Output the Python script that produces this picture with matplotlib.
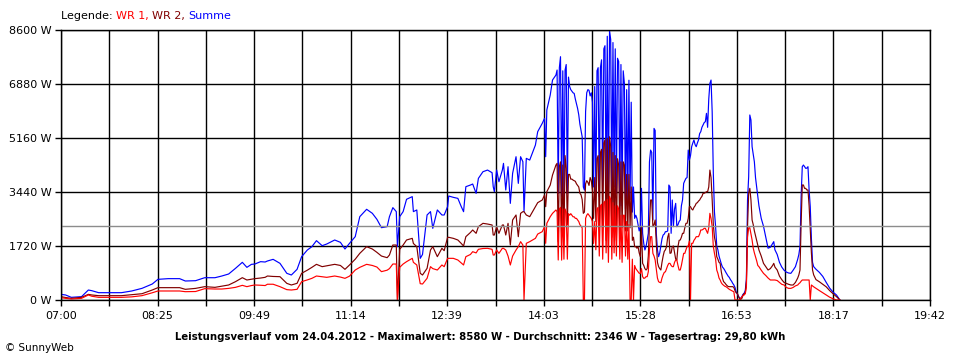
import numpy as np
import matplotlib.pyplot as plt

# Messzeitpunkte in Minuten seit 07:00 und Leistung in W
t_min = [0, 4, 9, 18, 24, 27, 33, 41, 53, 62, 71, 80, 85, 94, 104, 109, 118, 126, 135, 141,
         147, 153, 159, 163, 167, 170, 175, 179,
         181, 186, 192, 198, 202, 207, 211, 216, 220, 224, 229, 233, 240, 245, 249, 253, 258,
         262, 268, 273, 277, 281, 286, 288, 291, 294, 295, 297, 300, 303, 308, 309, 312, 315,
         317, 321, 324, 326, 330, 334,
         336, 339, 340, 344, 348, 351, 353, 355, 359, 361, 364, 366, 370, 374, 378, 379, 380,
         382, 384, 387, 388, 390, 392, 394, 396, 399, 401, 403, 405, 406, 408, 411, 416, 418,
         422, 424, 425, 426, 429, 431, 434, 435, 436,
         437, 438, 439, 440, 441, 442, 443, 444, 445, 446, 447, 448, 449, 450, 451, 452, 453,
         454, 455, 456, 457, 458, 459, 460, 461, 462, 463, 464, 465, 466, 467, 468, 469, 470,
         471, 472, 473, 474, 475, 476, 477, 478, 479, 480, 481, 482, 483, 484, 485, 486, 487,
         488, 489, 490, 491, 492, 493, 494, 495, 496, 497, 498, 499, 500, 501, 502, 503, 504,
         505, 506, 507,
         508, 509, 510, 511, 512, 513, 514, 515, 516, 517, 518, 519, 520, 521, 522, 523, 524,
         525, 526, 527, 528, 529, 530, 531, 532, 533, 534, 535, 536, 537, 538, 539, 540, 541,
         542, 543, 544, 545, 546, 547, 548, 549, 550, 551, 552, 553, 554, 555, 556, 557, 558,
         559, 560, 561, 562, 563, 564, 565, 566, 567, 568, 569, 570, 571, 572, 573, 574, 575,
         576, 577, 578, 579, 580, 581, 582, 583, 584, 585, 586, 587, 588, 589, 590, 591, 592,
         593, 594, 595, 596, 597, 598, 599, 600,
         601, 602, 603, 604, 605, 606, 607, 608, 609, 610, 611, 612, 614, 616, 618, 620, 622,
         624, 625, 626, 628, 630, 632, 634, 636, 638, 640, 642, 644, 646, 647, 648, 649, 650,
         651, 652, 653, 654, 655, 656, 657, 658, 659, 660, 662, 665, 668, 671, 674, 677, 680,
         683]

summe = [180, 160, 85, 106, 318, 297, 233, 233, 233, 287, 371, 509, 658, 680, 680, 605, 615, 710, 710, 764,
         828, 1008, 1200, 1040, 1136, 1146, 1221, 1210,
         1242, 1295, 1168, 850, 796, 977, 1380, 1592, 1699, 1890, 1730, 1783, 1911, 1837, 1624, 1805, 2018,
         2655, 2889, 2761, 2570, 2304, 2336, 2655, 2942, 2815, 1699, 2655, 2815, 3208, 3292, 2815, 2868, 1327,
         1450, 2708, 2815, 2283, 2868, 2708,
         2707, 2972, 3312, 3270, 3237, 2972, 2813, 3609, 3662, 3694, 3397, 3874, 4086, 4139, 4055, 3609, 3450,
         4139, 3768, 4139, 4352, 3503, 4246, 3078, 4033, 4564, 3715, 4564, 4405, 2813, 4511, 4458, 4936, 5361,
         5627, 5786, 4564, 6051, 6529, 7007, 7166, 7325, 3397,
         7400, 7750, 3300, 7300, 3200, 7325, 7500, 3400, 7100, 6800, 6700, 6650, 6600, 6580, 6400, 6250, 6100,
         5900, 5600, 5400, 5200, 3600, 3500, 6000, 6600, 6700, 6680, 6500, 6600, 6300, 3600, 6800, 3400, 7300,
         7400, 3300, 7400, 7650, 3400, 8000, 8100, 3300, 8400, 3000, 8580, 8300, 3200, 8200, 3600, 8000, 3400,
         7700, 7600, 3000, 7500, 3000, 7300, 6900, 2900, 6700, 3000, 7000, 3200, 6300, 2800, 3600, 2600, 2700,
         2600, 2400, 2200,
         2335, 3556, 2124, 1800, 1593, 1700, 1900, 2124, 4400, 4776, 4700, 2548, 5466, 5400, 2124, 1600, 1380,
         1500, 1720, 1950, 2070, 2100, 2177, 2177, 2200, 3662, 3600, 2124, 3185, 2336, 2900, 3078, 2336, 2400,
         2500, 2548, 3000, 3185, 3715, 3800, 3874, 3900, 4776, 4458, 4600, 4883, 5000, 5096, 4950, 4883, 5000,
         5096, 5300, 5361, 5500, 5573, 5650, 5680, 5945, 5500, 6400, 6900, 7006, 5998, 4033, 2800, 2336, 1720,
         1600, 1400, 1274, 1150, 1050, 1008, 950, 880, 820, 760, 720, 650, 600, 531, 480, 400, 260,
         200, 120, 60, 53, 100, 180, 212, 300,
         650, 3185, 3928, 5893, 5733, 4883, 4650, 4400, 3900, 3600, 3300, 3000, 2600, 2350, 2000, 1650, 1680,
         1800, 1858, 1600, 1450, 1200, 1050, 950, 890, 860, 849, 950, 1062, 1300, 1450, 1700, 3291, 4246,
         4299, 4250, 4193, 4200, 4246, 3500, 2973, 1965, 1200, 1062, 980, 880, 750, 560, 380, 250, 159,
         0]

wr2 = [106, 80, 53, 85, 180, 160, 138, 138, 138, 170, 200, 318, 393, 393, 393, 340, 370, 425, 403, 440,
       478, 584, 711, 637, 660, 680, 700, 722,
       764, 750, 743, 530, 478, 531, 850, 950, 1040, 1136, 1062, 1090, 1136, 1100, 977, 1115, 1300,
       1486, 1699, 1624, 1518, 1400, 1348, 1433, 1751, 1751, 0, 1614, 1751, 1911, 1964, 1800, 1699, 850,
       796, 1008, 1592, 1699, 1380, 1646,
       1571, 1996, 1996, 1964, 1911, 1800, 1720, 2017, 2150, 2230, 2124, 2336, 2442, 2420, 2389, 2070, 2070,
       2336, 2124, 2389, 2389, 2070, 2442, 1752, 2548, 2707, 2017, 2760, 2813, 2813, 2707, 2654, 2972, 3100,
       3185, 3344, 2972, 3450, 3662, 3980, 4299, 4352, 1858,
       4250, 4400, 2000, 4300, 1900, 4600, 4200, 2400, 4000, 4000, 3850, 3850, 3820, 3800, 3780, 3700, 3650,
       3600, 3400, 3350, 3200, 2760, 2800, 3700, 3800, 3750, 3650, 3900, 3800, 3500, 2600, 3900, 2500, 4500,
       4600, 2300, 4700, 4800, 2300, 5000, 5100, 1900, 5150, 1700, 5200, 4900, 2000, 4700, 2200, 4600, 1900,
       4500, 4300, 2100, 4400, 2300, 4400, 4300, 2200, 4000, 2200, 4000, 2300, 3600, 1900, 2000, 1700, 1700,
       1650, 1700, 1500,
       1380, 2336, 1168, 1100, 1000, 955, 1000, 1400, 2400, 3185, 3185, 2336, 2400, 2548, 1800, 1200, 1062,
       1000, 955, 1200, 1400, 1550, 1600, 1700, 2000, 2124, 1486, 1500, 1700, 1720, 1500, 1300, 1274, 1700,
       1900, 1911, 2000, 2124, 2124, 2300, 2442, 2442, 2600, 2973, 2973, 2900, 2867, 2950, 3000, 3078, 3100,
       3150, 3185, 3250, 3300, 3397, 3400, 3420, 3450, 3450, 3600, 4139, 3900, 3185, 2400, 2000, 1826, 1380,
       1300, 1200, 1168, 900, 700, 584, 550, 500, 460, 430, 425, 425, 425, 425, 400, 300, 230,
       212, 120, 40, 21, 50, 150, 212, 212,
       600, 2336, 3400, 3557, 3185, 2548, 2400, 2200, 2050, 1900, 1750, 1593, 1400, 1168, 1060, 955, 1000,
       1100, 1168, 1050, 955, 760, 650, 560, 531, 500, 478, 478, 560, 700, 800, 955, 2442, 3663,
       3663, 3557, 3557, 3504, 3504, 3000, 2230, 1500, 955, 800, 650, 580, 500, 420, 300, 200, 106,
       0]

wr1 = [74, 53, 32, 53, 160, 120, 85, 85, 85, 100, 138, 230, 287, 287, 287, 265, 270, 361, 350, 350,
       370, 403, 467, 425, 460, 478, 470, 460,
       502, 502, 425, 330, 318, 340, 584, 640, 690, 764, 740, 722, 764, 730, 690, 760, 955,
       1040, 1136, 1100, 1050, 903, 950, 1000, 1146, 1146, 0, 1040, 1146, 1221, 1327, 1200, 1115, 520,
       509, 690, 1062, 1000, 955, 1115,
       1062, 1327, 1327, 1327, 1274, 1180, 1115, 1380, 1450, 1539, 1500, 1614, 1640, 1646, 1614, 1433, 1433,
       1592, 1486, 1646, 1646, 1592, 1400, 1115, 1400, 1592, 1700, 1858, 1752, 0, 1805, 1858, 1964, 2100,
       2177, 2336, 1805, 2442, 2654, 2760, 2867, 2813, 1274,
       2900, 2950, 1270, 2900, 1300, 2900, 2800, 1300, 2750, 2700, 2750, 2700, 2650, 2650, 2600, 2600, 2550,
       2500, 2400, 2350, 2300, 0, 0, 2600, 2700, 2750, 2700, 2650, 2600, 2500, 1800, 2500, 1600, 2900,
       2950, 1400, 3000, 3050, 1300, 3100, 3150, 1500, 3200, 1200, 3300, 3200, 1300, 3100, 1500, 3000, 1400,
       3000, 2900, 1300, 2700, 1200, 2700, 2700, 1400, 2500, 1300, 2400, 0, 0, 1300, 0, 1100, 1000,
       950, 900, 850,
       849, 1000, 743, 690, 700, 743, 743, 900, 1600, 2017, 2017, 1486, 1400, 1274, 1000, 700, 584,
       560, 552, 700, 800, 880, 900, 1000, 1100, 1168, 1168, 1100, 1062, 1062, 1200, 1274, 1274, 1100,
       955, 955, 1100, 1300, 1486, 1486, 1600, 1700, 1720, 1880, 0, 1805, 1805, 1900, 1950, 2017, 2017,
       2017, 2100, 2230, 2230, 2250, 2283, 2283, 2200, 2124, 2300, 2760, 2600, 2336, 1700, 1486, 1300, 955,
       850, 700, 637, 550, 500, 470, 440, 425, 400, 370, 340, 318, 300, 280, 265, 0, 0,
       0, 0, 0, 50, 100, 140, 159, 200,
       400, 2000, 2300, 2300, 2100, 1911, 1650, 1500, 1380, 1250, 1100, 1062, 950, 849, 780, 700, 637,
       637, 637, 637, 620, 560, 500, 478, 400, 371, 371, 400, 450, 478, 520, 550, 600, 637,
       637, 637, 637, 637, 637, 637, 0, 478, 450, 420, 371, 300, 230, 159, 90, 40, 0,
       0]

x_ticklabels = ['07:00', '08:25', '09:49', '11:14', '12:39', '14:03', '15:28', '16:53', '18:17', '19:42']
y_ticks = [0, 1720, 3440, 5160, 6880, 8600]
durchschnitt = 2346

fig = plt.figure(figsize=(9.6, 3.6), dpi=100)
ax = fig.add_axes([61 / 960, 60 / 360, 869 / 960, 270 / 360])

ax.plot(t_min, summe, color='#0000ff', lw=0.85)
ax.plot(t_min, wr2, color='#800000', lw=0.85)
ax.plot(t_min, wr1, color='#ff0000', lw=0.85)
ax.axhline(durchschnitt, color='#8c8c8c', lw=1.0)

ax.set_xlim(0, 762)
ax.set_ylim(0, 8600)
ax.set_xticks(np.linspace(0, 762, 10))
ax.set_xticklabels(x_ticklabels)
ax.set_xticks(np.linspace(0, 762, 19), minor=True)
ax.set_yticks(y_ticks)
ax.set_yticklabels([str(v) + ' W' for v in y_ticks])
ax.set_axisbelow(True)
ax.grid(True, which='both', color='black', lw=1.0)
ax.tick_params(axis='x', which='both', direction='out', length=4, width=1, pad=4, labelsize=8)
ax.tick_params(axis='y', direction='out', length=4.5, width=1, pad=2, labelsize=8)
for s in ax.spines.values():
    s.set_color('black')
    s.set_linewidth(1.0)

# Legende oben links aus farbigen Textstuecken
fig.canvas.draw()
renderer = fig.canvas.get_renderer()
xpos = 61 / 960
for txt, col in [('Legende: ', 'black'), ('WR 1, ', '#ff0000'), ('WR 2, ', '#800000'), ('Summe', '#0000ff')]:
    t = fig.text(xpos, 1 - 16 / 360, txt, color=col, fontsize=8, va='center', ha='left')
    bb = t.get_window_extent(renderer=renderer)
    xpos = xpos + bb.width / fig.bbox.width

fig.text(0.5, 1 - 337 / 360,
         'Leistungsverlauf vom 24.04.2012 - Maximalwert: 8580 W - Durchschnitt: 2346 W - Tagesertrag: 29,80 kWh',
         fontsize=7.3, fontweight='bold', ha='center', va='center')
fig.text(5 / 960, 1 - 348 / 360, '\u00a9 SunnyWeb', fontsize=7.5, ha='left', va='center')

fig.savefig('out.png', dpi=100)
